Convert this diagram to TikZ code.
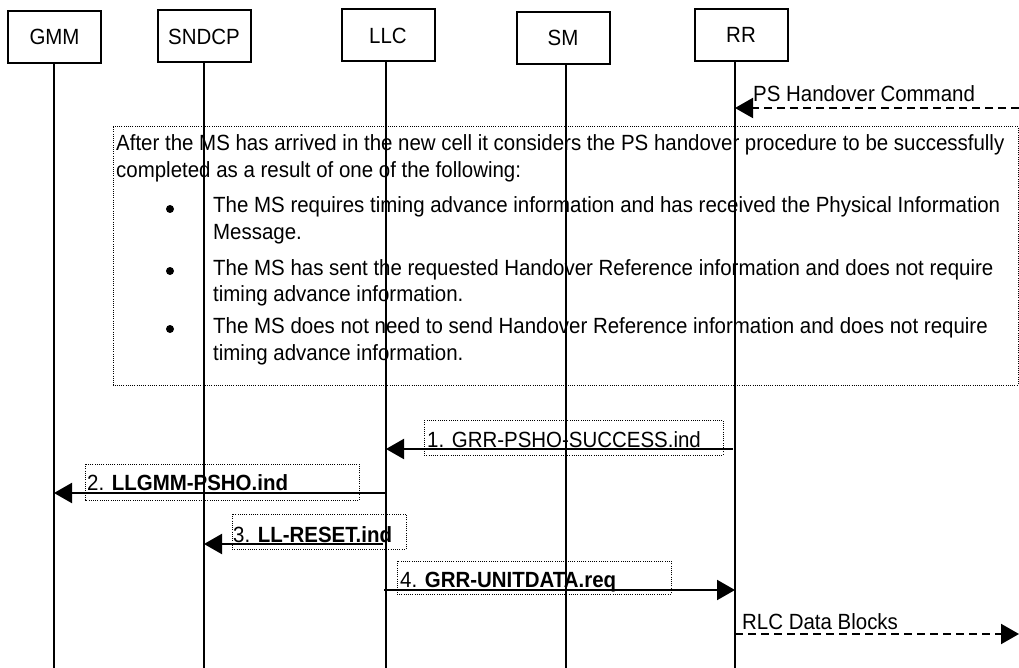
\documentclass[tikz,border=0pt]{standalone}
\usepackage{fontspec}
\setmainfont{Liberation Sans}[FakeStretch=0.93]
\usetikzlibrary{arrows.meta}
\begin{document}
\begin{tikzpicture}[x=1pt,y=-1pt,
  font=\fontsize{22}{28}\selectfont,
  ent/.style={draw, line width=2pt, minimum width=93pt, minimum height=52pt, inner sep=0pt},
  life/.style={line width=2pt},
  msg/.style={line width=2pt, -{Triangle[length=18pt,width=20pt]}},
  dmsg/.style={msg, dash pattern=on 8pt off 5pt},
  dotbox/.style={line width=1pt, dash pattern=on 1pt off 1.2pt},
  lbl/.style={anchor=base west, inner sep=0pt},
  bul/.style={circle, fill, inner sep=0pt, minimum size=8pt}
]
\useasboundingbox (0,0) rectangle (1019,668);

% entities
\node[ent] (gmm)   at (54.5,37)  {GMM};
\node[ent] (sndcp) at (204,36.5) {SNDCP};
\node[ent] (llc)   at (388,35.5) {LLC};
\node[ent] (sm)    at (563,38)   {SM};
\node[ent] (rr)    at (741,35)   {RR};

% lifeline ends
\coordinate (gmmE)   at (54,668);
\coordinate (sndcpE) at (204,668);
\coordinate (llcE)   at (386,668);
\coordinate (smE)    at (566,668);
\coordinate (rrE)    at (735,668);
\draw[life] (gmm.south -| gmmE) -- (gmmE);
\draw[life] (sndcp.south -| sndcpE) -- (sndcpE);
\draw[life] (llc.south -| llcE) -- (llcE);
\draw[life] (sm.south -| smE) -- (smE);
\draw[life] (rr.south -| rrE) -- (rrE);

% PS Handover Command
\coordinate (psR) at (1019,108);
\coordinate (psL) at (735,108);
\draw[dmsg] (psR) -- (psL);
\node[lbl] (pst) at (753,102) {PS Handover Command};

% big note
\draw[dotbox] (113,127) rectangle (1018,385);
\node[lbl] (n1) at (116,151) {After the MS has arrived in the new cell it considers the PS handover procedure to be successfully};
\node[lbl] (n2) at (116,178) {completed as a result of one of the following:};
\node[bul] (b1) at (170,209) {};
\node[lbl] (n3) at (213,213) {The MS requires timing advance information and has received the Physical Information};
\node[lbl] (n4) at (213,240) {Message.};
\node[bul] (b2) at (170,271) {};
\node[lbl] (n5) at (213,275) {The MS has sent the requested Handover Reference information and does not require};
\node[lbl] (n6) at (213,301) {timing advance information.};
\node[bul] (b3) at (170,329) {};
\node[lbl] (n7) at (213,333) {The MS does not need to send Handover Reference information and does not require};
\node[lbl] (n8) at (213,360) {timing advance information.};

% 1
\coordinate (m1a) at (733,449);
\coordinate (m1b) at (386,449);
\draw[msg] (m1a) -- (m1b);
\draw[dotbox] (424,420) rectangle (723,455);
\node[lbl] (m1t) at (427,447) {1. GRR-PSHO-SUCCESS.ind};

% 2
\coordinate (m2a) at (386,493);
\coordinate (m2b) at (54,493);
\draw[msg] (m2a) -- (m2b);
\draw[dotbox] (85,464) rectangle (359,500);
\node[lbl] (m2t) at (87,490) {2. \textbf{LLGMM-PSHO.ind}};

% 3
\coordinate (m3a) at (383,544);
\coordinate (m3b) at (204,544);
\draw[msg] (m3a) -- (m3b);
\draw[dotbox] (232,514) rectangle (406,549);
\node[lbl] (m3t) at (233,542) {3. \textbf{LL-RESET.ind}};

% 4
\coordinate (m4a) at (384,590);
\coordinate (m4b) at (735,590);
\draw[msg] (m4a) -- (m4b);
\draw[dotbox] (397,561) rectangle (671,594);
\node[lbl] (m4t) at (400,587) {4. \textbf{GRR-UNITDATA.req}};

% RLC
\coordinate (rlcA) at (735,634);
\coordinate (rlcB) at (1019,634);
\draw[dmsg] (rlcA) -- (rlcB);
\node[lbl] (rlct) at (742,629) {RLC Data Blocks};
\end{tikzpicture}
\end{document}
